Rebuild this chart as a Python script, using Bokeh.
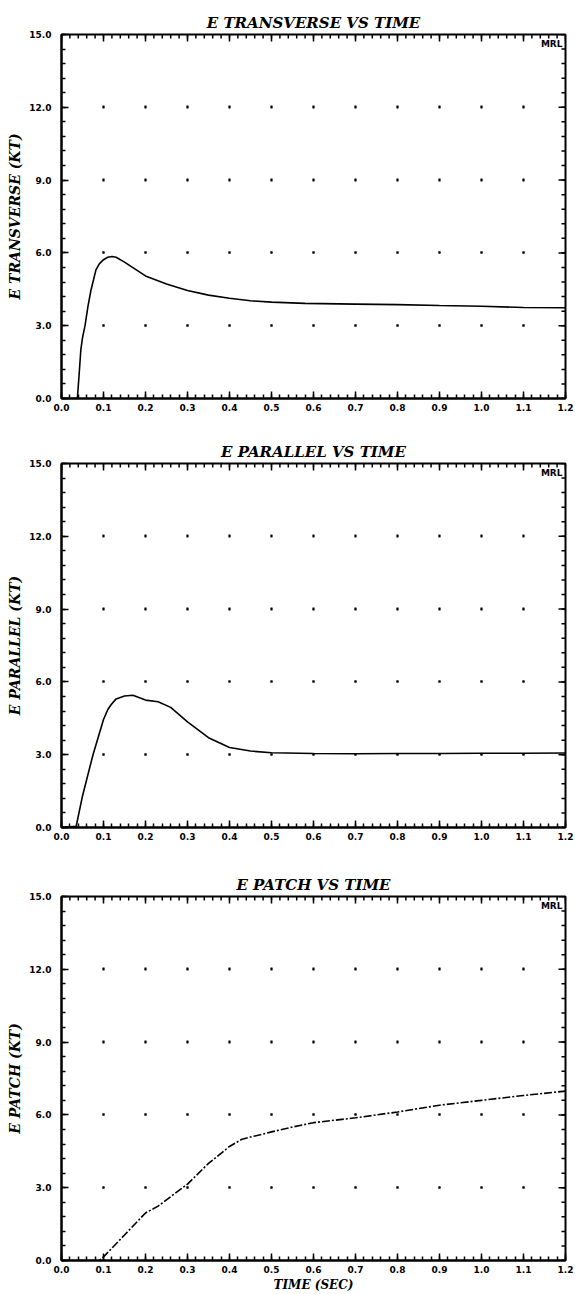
from bokeh.plotting import figure
from bokeh.layouts import column
from bokeh.models import FixedTicker, Range1d, Label
from bokeh.embed import file_html
from bokeh.resources import INLINE

# ---- axis ticks / labels ----
x_ticks = [0.0, 0.1, 0.2, 0.3, 0.4, 0.5, 0.6, 0.7, 0.8, 0.9, 1.0, 1.1, 1.2]
x_tick_labels = ["0.0", "0.1", "0.2", "0.3", "0.4", "0.5", "0.6", "0.7", "0.8", "0.9", "1.0", "1.1", "1.2"]
y_ticks = [0, 3, 6, 9, 12, 15]
y_tick_labels = ["0.0", "3.0", "6.0", "9.0", "12.0", "15.0"]

titles = ["E TRANSVERSE VS TIME", "E PARALLEL VS TIME", "E PATCH VS TIME"]
y_labels = ["E TRANSVERSE (KT)", "E PARALLEL (KT)", "E PATCH (KT)"]
x_label = "TIME (SEC)"

# ---- data ----
t_trans = [0.0, 0.035, 0.038, 0.042, 0.046, 0.05, 0.056, 0.063, 0.07, 0.082, 0.09,
           0.10, 0.11, 0.12, 0.13, 0.15, 0.18, 0.20, 0.25, 0.30, 0.35, 0.40, 0.45,
           0.50, 0.58, 0.70, 0.80, 0.90, 1.00, 1.10, 1.20]
e_trans = [0.0, 0.0, 0.05, 1.0, 2.0, 2.5, 3.0, 3.8, 4.45, 5.3, 5.55,
           5.72, 5.82, 5.85, 5.82, 5.62, 5.28, 5.05, 4.72, 4.45, 4.26, 4.13, 4.03,
           3.97, 3.92, 3.89, 3.87, 3.83, 3.80, 3.75, 3.74]

t_par = [0.0, 0.035, 0.05, 0.075, 0.094, 0.10, 0.11, 0.118, 0.13, 0.15, 0.17,
         0.20, 0.23, 0.26, 0.30, 0.35, 0.40, 0.45, 0.50, 0.60, 0.70, 0.80, 0.90,
         1.00, 1.10, 1.20]
e_par = [0.0, 0.05, 1.3, 3.0, 4.1, 4.45, 4.85, 5.06, 5.3, 5.42, 5.45,
         5.25, 5.18, 4.95, 4.35, 3.7, 3.3, 3.15, 3.08, 3.05, 3.04, 3.05, 3.05,
         3.06, 3.06, 3.07]

t_patch = [0.0, 0.09, 0.10, 0.15, 0.20, 0.23, 0.30, 0.35, 0.40, 0.43, 0.50, 0.55,
           0.60, 0.65, 0.70, 0.75, 0.80, 0.90, 1.00, 1.10, 1.20]
e_patch = [0.0, 0.0, 0.15, 1.05, 1.96, 2.24, 3.15, 4.0, 4.7, 5.0, 5.3, 5.5,
           5.68, 5.78, 5.88, 6.0, 6.12, 6.4, 6.6, 6.8, 6.98]

series = [(t_trans, e_trans), (t_par, e_par), (t_patch, e_patch)]

X0, X1, Y0, Y1 = 0.0, 1.2, 0.0, 15.0
FRAME_W = 504
FRAME_H = 364
borders = [(34, 32), (33, 33), (36, 34)]  # (top, bottom)

x_minor = [round(i * 0.02, 2) for i in range(61)]
y_minor = [round(i * 0.6, 1) for i in range(26)]

LABEL_FONT = "DejaVu Sans"
TITLE_FONT = "DejaVu Serif"

MAJ_PX, MIN_PX = 7, 4
ux = (X1 - X0) / FRAME_W   # data units per pixel, x
uy = (Y1 - Y0) / FRAME_H   # data units per pixel, y


def style_axis(ax):
    ax.axis_line_width = 2
    ax.axis_line_color = "black"
    ax.major_tick_in = MAJ_PX
    ax.major_tick_out = 0
    ax.minor_tick_in = MIN_PX
    ax.minor_tick_out = 0
    ax.major_tick_line_width = 1.5
    ax.minor_tick_line_width = 1.5
    ax.major_tick_line_color = "black"
    ax.minor_tick_line_color = "black"
    ax.major_label_text_color = "black"
    ax.axis_label_text_color = "black"


figs = []
for i, (tt, ee) in enumerate(series):
    top, bottom = borders[i]
    p = figure(frame_width=FRAME_W, frame_height=FRAME_H,
               x_range=Range1d(X0, X1), y_range=Range1d(Y0, Y1),
               output_backend="svg", toolbar_location=None,
               min_border_left=61, min_border_right=10,
               min_border_top=top, min_border_bottom=bottom,
               background_fill_color="white", border_fill_color="white")
    p.outline_line_color = "black"
    p.outline_line_width = 2

    p.title.text = titles[i]
    p.title.align = "center"
    p.title.text_font = TITLE_FONT
    p.title.text_font_style = "bold italic"
    p.title.text_font_size = "15px"
    p.title.text_color = "black"
    p.title.offset = 0
    p.title.standoff = 5

    xt = FixedTicker(ticks=x_ticks, minor_ticks=x_minor)
    yt = FixedTicker(ticks=y_ticks, minor_ticks=y_minor)

    xa = p.xaxis[0]
    xa.ticker = xt
    xa.major_label_overrides = {t: l for t, l in zip(x_ticks, x_tick_labels)}
    xa.major_label_text_font = LABEL_FONT
    xa.major_label_text_font_style = "bold"
    xa.major_label_text_font_size = "9px"
    xa.major_label_standoff = 5
    style_axis(xa)
    if i == 2:
        xa.axis_label = x_label
        xa.axis_label_text_font = TITLE_FONT
        xa.axis_label_text_font_style = "bold italic"
        xa.axis_label_text_font_size = "12px"
        xa.axis_label_standoff = 2

    ya = p.yaxis[0]
    ya.ticker = yt
    ya.major_label_overrides = {t: l for t, l in zip(y_ticks, y_tick_labels)}
    ya.major_label_text_font = LABEL_FONT
    ya.major_label_text_font_style = "bold"
    ya.major_label_text_font_size = "9px"
    ya.major_label_standoff = 10
    ya.axis_label = y_labels[i]
    ya.axis_label_text_font = TITLE_FONT
    ya.axis_label_text_font_style = "bold italic"
    ya.axis_label_text_font_size = "14px"
    ya.axis_label_standoff = 3
    style_axis(ya)

    # inward ticks on the top and right edges of the frame, from the tick arrays
    p.segment(x0=x_ticks, y0=[Y1] * len(x_ticks), x1=x_ticks,
              y1=[Y1 - MAJ_PX * uy] * len(x_ticks), line_color="black", line_width=1.5)
    p.segment(x0=x_minor, y0=[Y1] * len(x_minor), x1=x_minor,
              y1=[Y1 - MIN_PX * uy] * len(x_minor), line_color="black", line_width=1.5)
    p.segment(x0=[X1] * len(y_ticks), y0=y_ticks, x1=[X1 - MAJ_PX * ux] * len(y_ticks),
              y1=y_ticks, line_color="black", line_width=1.5)
    p.segment(x0=[X1] * len(y_minor), y0=y_minor, x1=[X1 - MIN_PX * ux] * len(y_minor),
              y1=y_minor, line_color="black", line_width=1.5)

    # dotted grid: dots at the intersections
    p.xgrid.ticker = xt
    p.ygrid.ticker = yt
    p.xgrid.grid_line_color = "black"
    p.xgrid.grid_line_width = 2
    p.xgrid.grid_line_dash = "2 71"
    p.xgrid.grid_line_dash_offset = 1
    p.ygrid.grid_line_color = "black"
    p.ygrid.grid_line_width = 2
    p.ygrid.grid_line_dash = "2 40"
    p.ygrid.grid_line_dash_offset = 1

    p.line(tt, ee, line_color="black", line_width=1.6,
           line_dash="solid" if i < 2 else "8 2 2 2")

    p.add_layout(Label(x=X1 - 3 * ux, y=Y1 - 4 * uy, text="MRL", text_align="right",
                       text_baseline="top", text_font=LABEL_FONT,
                       text_font_style="bold", text_font_size="9px",
                       text_color="black"))
    figs.append(p)

layout = column(*figs, spacing=0)
open("out.html", "w").write(file_html(layout, INLINE))
